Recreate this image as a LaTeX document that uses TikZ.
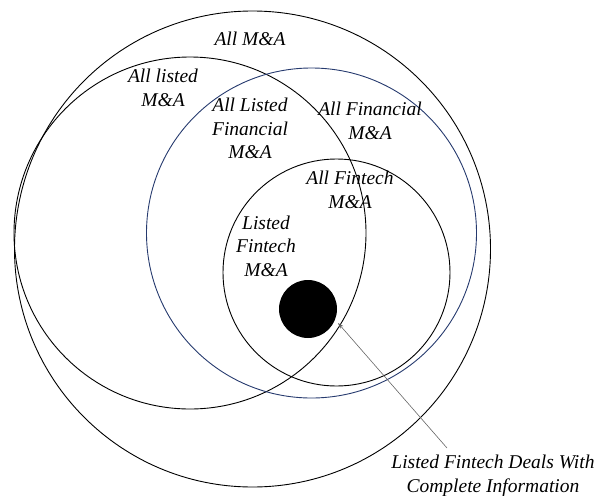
\documentclass[tikz,border=0pt]{standalone}
\usepackage{fontspec}
\setmainfont{Liberation Serif}
\usetikzlibrary{arrows.meta}
\definecolor{finblue}{RGB}{38,58,110}
\tikzset{
  ring/.style={circle, draw=black, line width=0.9pt, inner sep=0pt},
  lbl/.style={font=\fontsize{19.5}{23.5}\selectfont\itshape, align=center, inner sep=0pt},
}
\begin{document}
\begin{tikzpicture}[x=1pt,y=-1pt]
\useasboundingbox (0,0) rectangle (598,496);
% circles
\node[ring, minimum size=476pt] (all) at (252.5,249) {};
\node[ring, minimum size=352pt] (listed) at (190,233) {};
\node[ring, draw=finblue, minimum size=330pt] (fin) at (311.5,233) {};
\node[ring, minimum size=227pt] (fintech) at (336.5,272.5) {};
\node[circle, fill=black, inner sep=0pt, minimum size=58pt] (dot) at (308,309) {};
% labels
\node[lbl] (tall) at (250,39) {All M\&A};
\node[lbl] (tlisted) at (163,88) {All listed\\M\&A};
\node[lbl] (tlfin) at (250,128.5) {All Listed\\Financial\\M\&A};
\node[lbl] (tfin) at (370,121) {All Financial\\M\&A};
\node[lbl] (tfintech) at (350,190) {All Fintech\\M\&A};
\node[lbl] (tlft) at (266,246) {Listed\\Fintech\\M\&A};
\node[lbl] (tcomp) at (493,476) {Listed Fintech Deals With\\Complete Information};
% arrow
\coordinate (astart) at (447,448);
\coordinate (atip) at (338,323);
\draw[draw=black!60, line width=0.6pt, -{Stealth[length=6pt,width=4pt,fill=black]}] (astart) -- (atip);
\end{tikzpicture}
\end{document}
